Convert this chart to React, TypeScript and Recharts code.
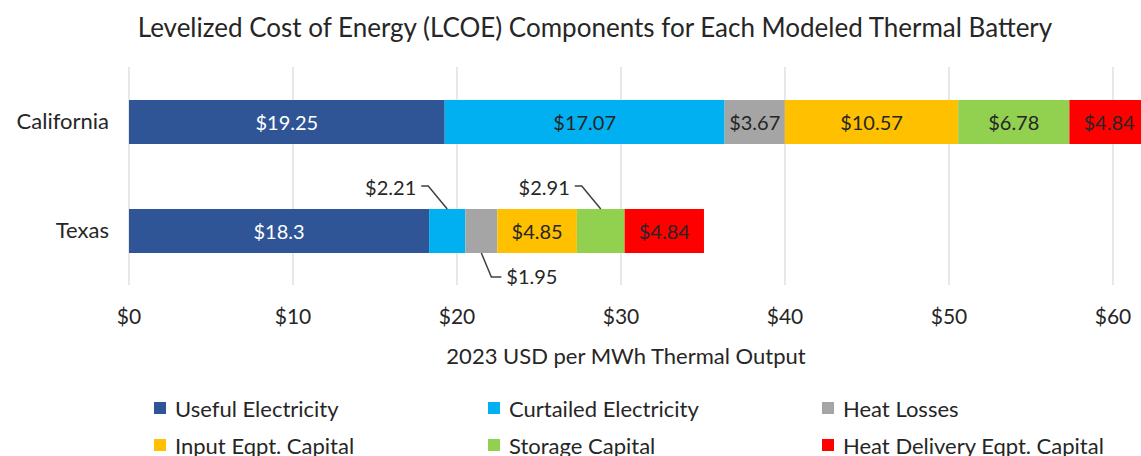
import React from 'react';
import { BarChart, Bar, XAxis, YAxis, CartesianGrid, LabelList } from 'recharts';

// ---- data ----
const categories = ['California', 'Texas'];
const usefulElectricity = [19.25, 18.3];
const curtailedElectricity = [17.07, 2.21];
const heatLosses = [3.67, 1.95];
const inputEqptCapital = [10.57, 4.85];
const storageCapital = [6.78, 2.91];
const heatDeliveryEqptCapital = [4.84, 4.84];
const xTicks = [0, 10, 20, 30, 40, 50, 60];

const TITLE = 'Levelized Cost of Energy (LCOE) Components for Each Modeled Thermal Battery';
const X_LABEL = '2023 USD per MWh Thermal Output';

type Series = { key: string; name: string; values: number[]; color: string; text: string; place: string[] };

const series: Series[] = [
  { key: 'useful', name: 'Useful Electricity', values: usefulElectricity, color: '#2F5597', text: '#FFFFFF', place: ['in', 'in'] },
  { key: 'curtailed', name: 'Curtailed Electricity', values: curtailedElectricity, color: '#00B0F0', text: '#262626', place: ['in', 'above'] },
  { key: 'losses', name: 'Heat Losses', values: heatLosses, color: '#A5A5A5', text: '#262626', place: ['in', 'below'] },
  { key: 'input', name: 'Input Eqpt. Capital', values: inputEqptCapital, color: '#FFC000', text: '#262626', place: ['in', 'in'] },
  { key: 'storage', name: 'Storage Capital', values: storageCapital, color: '#92D050', text: '#262626', place: ['in', 'above'] },
  { key: 'delivery', name: 'Heat Delivery Eqpt. Capital', values: heatDeliveryEqptCapital, color: '#FF0000', text: '#262626', place: ['in', 'in'] },
];

const data = categories.map((name, i) => {
  const row: Record<string, any> = { name };
  series.forEach((s) => (row[s.key] = s.values[i]));
  return row;
});

const FONT = 'Lato, "Open Sans", sans-serif';
const fmt = (v: number) => `$${v}`;
const LABEL_SIZE = 20;

const makeLabel = (s: Series) => (props: any) => {
  const { x, y, width, height, value, index } = props;
  const place = s.place[index];
  const cx = Number(x) + Number(width) / 2;
  const top = Number(y);
  const bottom = Number(y) + Number(height);
  if (place === 'in') {
    return (
      <text x={cx} y={top + Number(height) / 2} textAnchor="middle" dominantBaseline="central"
        fill={s.text} fontSize={LABEL_SIZE} fontFamily={FONT}>{fmt(value)}</text>
    );
  }
  if (place === 'above') {
    return (
      <g>
        <path d={`M${cx},${top} L${cx - 19},${top - 23} L${cx - 26},${top - 23}`} stroke="#404040" strokeWidth={1.5} fill="none" />
        <text x={cx - 31} y={top - 22} textAnchor="end" dominantBaseline="central"
          fill="#262626" fontSize={LABEL_SIZE} fontFamily={FONT}>{fmt(value)}</text>
      </g>
    );
  }
  return (
    <g>
      <path d={`M${cx},${bottom} L${cx + 10},${bottom + 24} L${cx + 20},${bottom + 24}`} stroke="#404040" strokeWidth={1.5} fill="none" />
      <text x={cx + 25} y={bottom + 23} textAnchor="start" dominantBaseline="central"
        fill="#262626" fontSize={LABEL_SIZE} fontFamily={FONT}>{fmt(value)}</text>
    </g>
  );
};

const legendCols = [154, 488, 822];
const legendRows = [402, 439];

export default function App() {
  return (
    <div style={{ position: 'absolute', left: 0, top: 0, width: 1141, height: 456, overflow: 'hidden', background: '#FFFFFF', fontFamily: FONT }}>
      <div style={{ position: 'absolute', left: 0, top: 11, width: 1190, textAlign: 'center', fontSize: 26, lineHeight: '32px', color: '#262626', whiteSpace: 'nowrap' }}>
        {TITLE}
      </div>
      <BarChart width={1300} height={456} data={data} layout="vertical"
        margin={{ top: 67, right: 23, bottom: 141, left: 0 }} barCategoryGap={0}>
        <CartesianGrid horizontal={false} stroke="#D9D9D9" strokeWidth={1.2} />
        <XAxis type="number" domain={[0, 70]} ticks={xTicks} tickFormatter={fmt} axisLine={false} tickLine={false}
          tickMargin={18} height={30} interval={0}
          tick={{ fontSize: 21, fill: '#262626', fontFamily: FONT }} />
        <YAxis type="category" dataKey="name" width={129} axisLine={false} tickLine={false} tickMargin={14}
          tick={{ fontSize: 22, fill: '#262626', fontFamily: FONT }} />
        {series.map((s) => (
          <Bar key={s.key} dataKey={s.key} name={s.name} stackId="a" fill={s.color} barSize={44} isAnimationActive={false}>
            <LabelList dataKey={s.key} content={makeLabel(s)} />
          </Bar>
        ))}
      </BarChart>
      <div style={{ position: 'absolute', left: 0, top: 342, width: 1252, textAlign: 'center', fontSize: 22, lineHeight: '28px', color: '#262626', whiteSpace: 'nowrap' }}>
        {X_LABEL}
      </div>
      {series.map((s, i) => {
        const col = i % 3;
        const row = Math.floor(i / 3);
        return (
          <div key={s.key} style={{ position: 'absolute', left: legendCols[col], top: legendRows[row] - 8, height: 28, display: 'flex', alignItems: 'center', whiteSpace: 'nowrap', fontSize: 22, color: '#262626' }}>
            <span style={{ display: 'inline-block', width: 12, height: 12, background: s.color, marginRight: 9 }} />
            <span>{s.name}</span>
          </div>
        );
      })}
    </div>
  );
}
